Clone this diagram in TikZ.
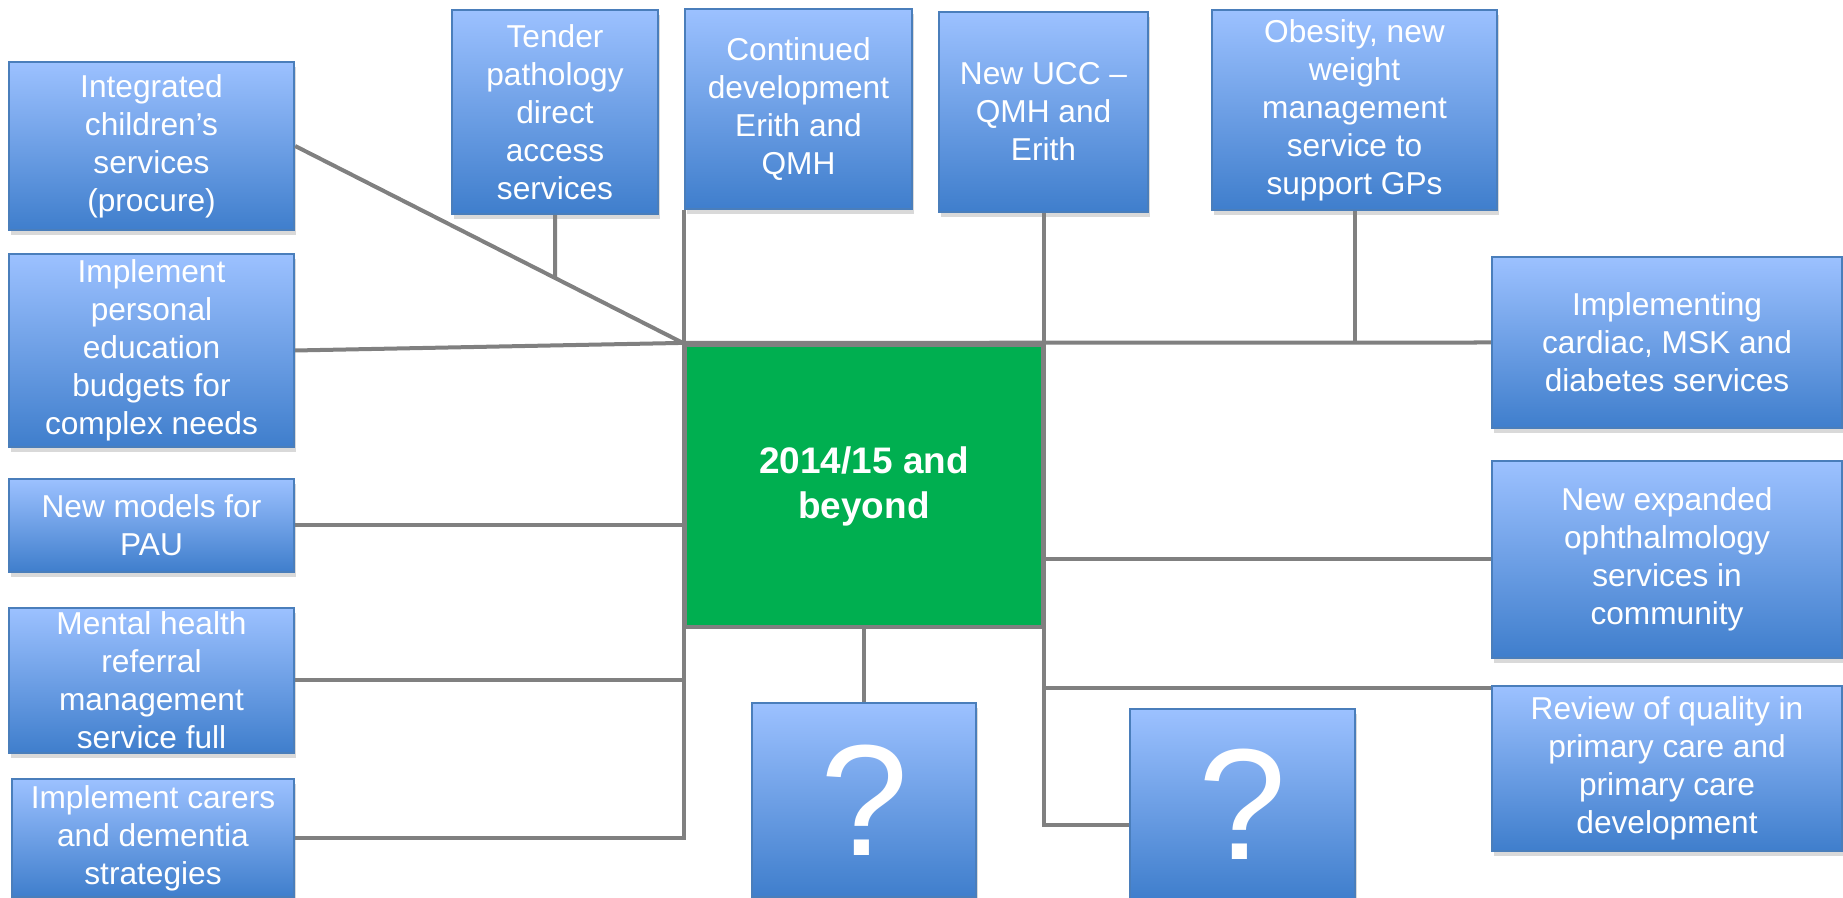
\documentclass[tikz,border=0pt]{standalone}
\usepackage{fontspec}
\setmainfont{Liberation Sans}
\usetikzlibrary{shadows}
\definecolor{boxtop}{RGB}{156,193,255}
\definecolor{boxbot}{RGB}{63,126,204}
\definecolor{boxedge}{RGB}{74,126,187}
\definecolor{coregreen}{RGB}{0,175,80}
\definecolor{linkgray}{RGB}{128,128,128}

\begin{document}
\begin{tikzpicture}[x=0.01cm,y=-0.01cm,
    item/.style={draw=boxedge,line width=0.6pt,top color=boxtop,bottom color=boxbot,
        text=white,align=center,inner sep=0pt,font=\fontsize{9}{10.8}\selectfont,
        drop shadow={shadow xshift=0.02cm,shadow yshift=-0.05cm,opacity=0.3}},
    link/.style={draw=linkgray,line width=0.04cm}]
\useasboundingbox (0,0) rectangle (1843,898);

\node[item,minimum width=2.85cm,minimum height=1.68cm] (child) at (151.5,146) {Integrated\\children’s\\services\\(procure)};
\node[item,minimum width=2.85cm,minimum height=1.93cm] (budget) at (151.5,350.5) {Implement\\personal\\education\\budgets for\\complex needs};
\node[item,minimum width=2.85cm,minimum height=0.93cm] (pau) at (151.5,525.5) {New models for\\PAU};
\node[item,minimum width=2.85cm,minimum height=1.45cm] (mental) at (151.5,680.5) {Mental health\\referral\\management\\service full};
\node[item,minimum width=2.82cm,minimum height=1.18cm] (carers) at (153,838) {Implement carers\\and dementia\\strategies};

\node[item,minimum width=2.06cm,minimum height=2.04cm] (tender) at (555,112) {Tender\\pathology\\direct\\access\\services};
\node[item,minimum width=2.27cm,minimum height=2.00cm] (cont) at (798.5,109) {Continued\\development\\Erith and\\QMH};
\node[item,minimum width=2.09cm,minimum height=2.00cm] (ucc) at (1043.5,112) {New UCC –\\QMH and\\Erith};
\node[item,minimum width=2.85cm,minimum height=2.00cm] (obes) at (1354.5,110) {Obesity, new\\weight\\management\\service to\\support GPs};

\node[item,minimum width=3.50cm,minimum height=1.71cm] (cardiac) at (1667,342.5) {Implementing\\cardiac, MSK and\\diabetes services};
\node[item,minimum width=3.50cm,minimum height=1.97cm] (oph) at (1667,559.5) {New expanded\\ophthalmology\\services in\\community};
\node[item,minimum width=3.50cm,minimum height=1.65cm] (review) at (1667,768.5) {Review of quality in\\primary care and\\primary care\\development};

\node[draw=linkgray,line width=0.04cm,fill=coregreen,text=white,align=center,
    minimum width=3.58cm,minimum height=2.82cm,font=\bfseries\fontsize{10.5}{12.8}\selectfont] (core) at (864,486) {2014/15 and\\beyond};

\node[item,minimum width=2.24cm,minimum height=1.94cm,font=\fontsize{45}{50}\selectfont] (q1) at (864,800) {?};
\node[item,minimum width=2.25cm,minimum height=1.90cm,font=\fontsize{45}{50}\selectfont] (q2) at (1242.5,804) {?};

\coordinate (qv) at ([yshift=-0.21cm]q2.west);
\coordinate (rv) at ([yshift=-0.03cm]review.north west);

\draw[link] (child.east) -- (core.north west);
\draw[link] (budget.east) -- (core.north west);
\draw[link] (tender.south) -- (intersection of tender.south--tender.north and child.east--core.north west);
\draw[link] (cont.south west) -- (cont.south west |- carers.east) -- (carers.east);
\draw[link] (pau.east) -- (pau.east -| core.west);
\draw[link] (mental.east) -- (mental.east -| core.west);
\draw[link] (core.north west) -- (cardiac.west);
\draw[link] (obes.south) -- (obes.south |- cardiac.west);
\draw[link] (ucc.south) |- (qv);
\draw[link] (core.south) -- (q1.north);
\draw[link] (oph.west -| core.east) -- (oph.west);
\draw[link] (rv -| core.east) -- (rv);
\end{tikzpicture}
\end{document}
